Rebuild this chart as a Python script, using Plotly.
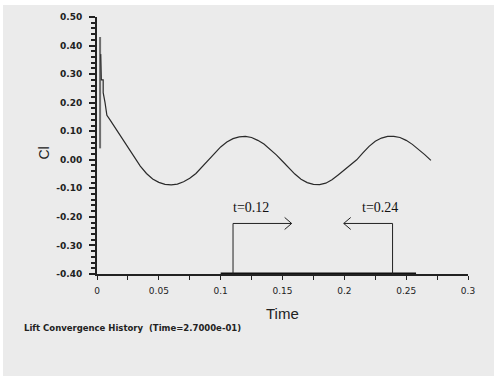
import plotly.graph_objects as go

# ---- data ----
spike_t = [0.0025, 0.0025]
spike_cl = [0.04, 0.43]

time = [0.003, 0.0035, 0.005, 0.005, 0.0065, 0.0075, 0.008, 0.010, 0.015, 0.020,
        0.025, 0.030, 0.035, 0.040, 0.045, 0.050, 0.055, 0.060, 0.065, 0.070,
        0.075, 0.080, 0.085, 0.090, 0.095, 0.100, 0.105, 0.110, 0.115, 0.120,
        0.125, 0.130, 0.135, 0.140, 0.145, 0.150, 0.155, 0.160, 0.165, 0.170,
        0.175, 0.180, 0.185, 0.190, 0.195, 0.200, 0.205, 0.210, 0.215, 0.220,
        0.225, 0.230, 0.235, 0.240, 0.245, 0.250, 0.255, 0.260, 0.265, 0.270]
cl = [0.37, 0.28, 0.28, 0.235, 0.20, 0.17, 0.156, 0.143, 0.110, 0.075,
      0.043, 0.012, -0.022, -0.048, -0.067, -0.079, -0.086, -0.088, -0.085, -0.077,
      -0.065, -0.048, -0.025, -0.003, 0.020, 0.045, 0.062, 0.074, 0.080, 0.082,
      0.078, 0.068, 0.055, 0.037, 0.017, -0.005, -0.028, -0.050, -0.068, -0.080,
      -0.086, -0.087, -0.082, -0.070, -0.053, -0.035, -0.020, 0.000, 0.024, 0.047,
      0.065, 0.076, 0.082, 0.082, 0.078, 0.068, 0.054, 0.037, 0.018, -0.002]

y_tickvals = [-0.4, -0.3, -0.2, -0.1, 0.0, 0.1, 0.2, 0.3, 0.4, 0.5]
y_ticktext = ["-0.40", "-0.30", "-0.20", "-0.10", "0.00", "0.10", "0.20", "0.30", "0.40", "0.50"]
x_tickvals = [0, 0.05, 0.1, 0.15, 0.2, 0.25, 0.3]
x_ticktext = ["0", "0.05", "0.1", "0.15", "0.2", "0.25", "0.3"]

# period markers
mark_t = [0.11, 0.239]
mark_labels = ["t=0.12", "t=0.24"]
mark_label_t = [0.1245, 0.229]
arrow_end_t = [0.1574, 0.1995]
mark_level = -0.223
label_level = -0.167
window_t = [0.1, 0.258]

BG = "#ebebeb"
INK = "#222222"

fig = go.Figure()
fig.add_trace(go.Scatter(x=spike_t, y=spike_cl, mode="lines",
                         line=dict(color="#6e6e6e", width=2), showlegend=False))
fig.add_trace(go.Scatter(x=time, y=cl, mode="lines",
                         line=dict(color="#2a2a2a", width=1.2), showlegend=False))

shapes = []
# background with thin white border at top/left
shapes.append(dict(type="rect", xref="paper", yref="paper", layer="below",
                   xsizemode="pixel", ysizemode="pixel", xanchor=0, yanchor=1,
                   x0=-94, x1=397, y0=12, y1=-361,
                   fillcolor=BG, line=dict(width=0)))
# thick window line on the axis
shapes.append(dict(type="line", xref="x", yref="y", x0=window_t[0], x1=window_t[1],
                   y0=-0.4, y1=-0.4, line=dict(color="#111", width=3)))
for i in range(2):
    shapes.append(dict(type="line", xref="x", yref="y", x0=mark_t[i], x1=mark_t[i],
                       y0=-0.4, y1=mark_level, line=dict(color=INK, width=1)))
    shapes.append(dict(type="line", xref="x", yref="y", x0=mark_t[i], x1=arrow_end_t[i],
                       y0=mark_level, y1=mark_level, line=dict(color=INK, width=1)))
    d = 1 if arrow_end_t[i] > mark_t[i] else -1
    shapes.append(dict(type="path", xref="x", yref="y", xsizemode="pixel", ysizemode="pixel",
                       xanchor=arrow_end_t[i], yanchor=mark_level,
                       path=f"M{-7*d},6 L0,0 L{-7*d},-6",
                       line=dict(color=INK, width=1)))

annotations = []
for i in range(2):
    annotations.append(dict(x=mark_label_t[i], y=label_level, xref="x", yref="y",
                            text=mark_labels[i], showarrow=False,
                            font=dict(family="Liberation Serif", size=14, color="#111")))
annotations.append(dict(xref="paper", yref="paper", x=0.5, y=0, yshift=-39,
                        text="Time", showarrow=False, yanchor="middle",
                        font=dict(family="Liberation Sans", size=15, color=INK)))
annotations.append(dict(xref="paper", yref="paper", x=0, y=0.5, xshift=-54, yshift=-8,
                        xanchor="center", yanchor="middle",
                        text="Cl", showarrow=False, textangle=-90,
                        font=dict(family="Liberation Sans", size=14, color=INK)))
annotations.append(dict(xref="paper", yref="paper", x=0, y=0, xshift=-75, yshift=-54,
                        xanchor="left", yanchor="middle",
                        text="Lift Convergence History  (Time=2.7000e-01)", showarrow=False,
                        font=dict(family="DejaVu Sans", size=8.5, color=INK, weight="bold")))

fig.update_layout(
    width=494, height=376,
    margin=dict(l=97, r=26, t=15, b=102),
    paper_bgcolor="white", plot_bgcolor=BG,
    shapes=shapes, annotations=annotations,
    xaxis=dict(range=[0, 0.3], tickvals=x_tickvals, ticktext=x_ticktext,
               showgrid=False, zeroline=False, showline=True, linecolor=INK, linewidth=1.5,
               ticks="outside", ticklen=4, tickcolor=INK, tickwidth=1, ticklabelstandoff=3,
               minor=dict(dtick=0.025, tick0=0, ticks="outside", ticklen=4, tickcolor=INK),
               tickfont=dict(family="DejaVu Sans", size=9, color=INK)),
    yaxis=dict(range=[-0.4, 0.5], tickvals=y_tickvals, ticktext=y_ticktext,
               showgrid=False, zeroline=False, showline=True, linecolor=INK, linewidth=2,
               ticks="outside", ticklen=6, tickcolor=INK, tickwidth=1.5, ticklabelstandoff=5,
               minor=dict(dtick=0.02, tick0=0, ticks="outside", ticklen=4, tickcolor=INK, tickwidth=1.5),
               tickfont=dict(family="DejaVu Sans", size=9, color=INK, weight="bold")),
)

fig.write_html("out.html")
